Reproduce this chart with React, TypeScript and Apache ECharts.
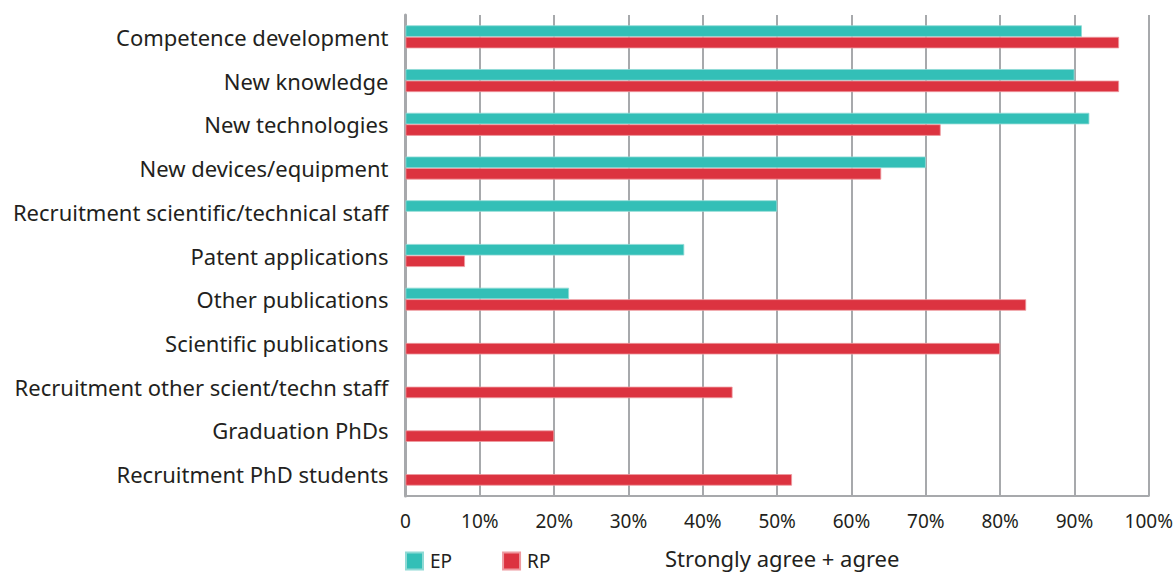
import React, { useEffect, useRef } from "react";
import * as echarts from "echarts";

const categories = [
  "Competence development",
  "New knowledge",
  "New technologies",
  "New devices/equipment",
  "Recruitment scientific/technical staff",
  "Patent applications",
  "Other publications",
  "Scientific publications",
  "Recruitment other scient/techn staff",
  "Graduation PhDs",
  "Recruitment PhD students",
];
const epValues = [91, 90, 92, 70, 50, 37.5, 22, null, null, null, null];
const rpValues = [96, 96, 72, 64, null, 8, 83.5, 80, 44, 20, 52];
const xTicks = [0, 10, 20, 30, 40, 50, 60, 70, 80, 90, 100];

const FONT = "'Noto Sans', 'Open Sans', sans-serif";
const TEAL = "#33bfb7";
const RED = "#dc3340";
const GRAY = "#a7a9ac";
const TEXT = "#231f20";

export default function App() {
  const ref = useRef<HTMLDivElement>(null);
  useEffect(() => {
    document.body.style.margin = "0";
    const chart = echarts.init(ref.current!, null, { renderer: "svg" });
    chart.setOption({
      animation: false,
      textStyle: { fontFamily: FONT, color: TEXT },
      grid: { left: 405.5, right: 26.5, top: 15, bottom: 77, containLabel: false },
      legend: {
        left: 405,
        top: 551,
        padding: 0,
        itemWidth: 17,
        itemHeight: 17,
        itemGap: 50,
        icon: "rect",
        textStyle: { fontFamily: FONT, fontSize: 19, color: TEXT, padding: [0, 0, 0, 2], lineHeight: 20 },
        data: ["EP", "RP"],
      },
      graphic: [
        {
          type: "text",
          left: 665,
          top: 547,
          style: { text: "Strongly agree + agree", font: `22px ${FONT}`, fill: TEXT },
        },
      ],
      xAxis: {
        type: "value",
        min: 0,
        max: 100,
        interval: 10,
        axisLine: { show: true, lineStyle: { color: GRAY, width: 2 } },
        axisTick: { show: false },
        splitLine: { show: true, lineStyle: { color: GRAY, width: 2 } },
        axisLabel: {
          margin: 15,
          fontSize: 19,
          fontFamily: FONT,
          color: TEXT,
          formatter: (v: number) => (v === 0 ? "0" : `${v}%`),
          customValues: xTicks,
        },
      },
      yAxis: {
        type: "category",
        inverse: true,
        data: categories,
        axisLine: { show: true, lineStyle: { color: GRAY, width: 3 } },
        axisTick: { show: false },
        axisLabel: { margin: 17, fontSize: 22, fontFamily: FONT, color: TEXT, padding: [0, 0, 2, 0] },
      },
      series: [
        {
          name: "EP",
          type: "bar",
          data: epValues,
          barWidth: 11.5,
          barGap: "0%",
          itemStyle: { color: TEAL, borderColor: "#8fdad5", borderWidth: 0.8 },
        },
        {
          name: "RP",
          type: "bar",
          data: rpValues,
          barWidth: 11.5,
          barGap: "0%",
          itemStyle: { color: RED, borderColor: "#ee9aa0", borderWidth: 0.8 },
        },
      ],
    });
    return () => chart.dispose();
  }, []);
  return <div ref={ref} style={{ width: 1176, height: 573 }} />;
}
